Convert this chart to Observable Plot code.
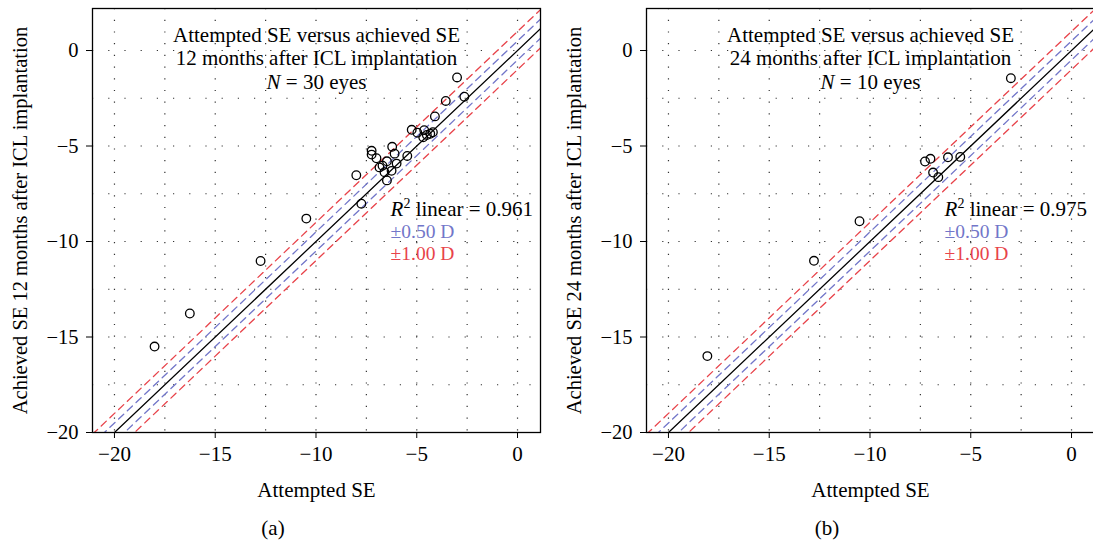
<!DOCTYPE html>
<html><head><meta charset="utf-8">
<script src="https://cdn.jsdelivr.net/npm/d3@7"></script>
<script src="https://cdn.jsdelivr.net/npm/@observablehq/plot@0.6"></script>
<style>
body{margin:0;background:#fff;font-family:"Liberation Serif",serif;}
#wrap{position:relative;width:1093px;height:540px;overflow:hidden;background:#fff;}
.panel{position:absolute;top:0;width:546px;height:540px;}
.cap{position:absolute;left:0;width:546px;text-align:center;font-size:21px;top:517px;line-height:22px;height:22px;color:#000;}
</style></head><body>
<div id="wrap"><div class="panel" id="pa"></div><div class="panel" id="pb" style="left:554px"></div></div>
<script>
// Panel (a): 12 months, 30 eyes
const attemptedA = [-3.0,-2.64,-3.56,-4.1,-5.25,-4.97,-4.63,-4.68,-4.5,-4.33,-4.2,-6.22,-6.1,-5.47,-7.24,-7.24,-7.0,-6.48,-6.0,-6.85,-6.7,-6.6,-6.25,-6.48,-8.0,-7.75,-10.48,-12.75,-16.26,-18.01];
const achievedA  = [-1.41,-2.42,-2.64,-3.45,-4.15,-4.3,-4.17,-4.54,-4.42,-4.36,-4.28,-5.04,-5.4,-5.52,-5.25,-5.45,-5.64,-5.8,-5.92,-6.12,-6.03,-6.37,-6.3,-6.8,-6.53,-8.02,-8.8,-11.02,-13.77,-15.5];
// Panel (b): 24 months, 10 eyes
const attemptedB = [-3.01,-18.07,-12.78,-10.52,-7.27,-7.0,-6.13,-5.52,-6.87,-6.61];
const achievedB  = [-1.45,-16.0,-11.01,-8.94,-5.81,-5.67,-5.59,-5.57,-6.39,-6.63];

const panelLetters = ["(a)", "(b)"];
const monthsList = [12, 24];
const eyesList = [30, 10];
const r2List = [0.961, 0.975];
const xTicks = [-20, -15, -10, -5, 0];
const yTicks = [-20, -15, -10, -5, 0];
const gridXValues = [-20, -17.5, -15, -12.5, -10, -7.5, -5, -2.5, 0];
const gridYValues = [-17.5, -15, -12.5, -10, -7.5, -5, -2.5, 0];
const innerBand = [-0.5, 0.5];
const outerBand = [-1, 1];
const bandLabels = ["±0.50 D", "±1.00 D"];

const xDomain = [-21.09, 1.14];
const yDomain = [-20, 2.2];
const BLUE = "#7276c9";
const RED = "#e8434a";
const SVGNS = "http://www.w3.org/2000/svg";
const fmt = d => d < 0 ? "\u2212" + (-d) : String(d);

function refLine(offsets) {
  return offsets.flatMap((o, k) => xDomain.map(x => ({x, y: x + o, k})));
}

function span(parent, txt, attrs) {
  const t = document.createElementNS(SVGNS, "tspan");
  t.textContent = txt;
  for (const k in attrs) t.setAttribute(k, attrs[k]);
  parent.appendChild(t);
  return t;
}

function panel(att, ach, months, eyes, r2) {
  const pts = att.map((x, i) => ({x, y: ach[i]}));
  const svg = Plot.plot({
    width: 546, height: 505,
    marginLeft: 92, marginRight: 6, marginTop: 8, marginBottom: 73,
    style: {fontFamily: "'Liberation Serif', serif", fontSize: "21px", color: "black", background: "white", overflow: "visible"},
    x: {domain: xDomain},
    y: {domain: yDomain},
    marks: [
      Plot.gridX(gridXValues, {stroke: "#333", strokeOpacity: 1, strokeWidth: 1.2, strokeDasharray: "1.2,10.5"}),
      Plot.gridY(gridYValues, {stroke: "#333", strokeOpacity: 1, strokeWidth: 1.2, strokeDasharray: "1.2,15"}),
      Plot.line(refLine(outerBand), {x: "x", y: "y", z: "k", stroke: RED, strokeWidth: 1.3, strokeDasharray: "7,5", clip: true}),
      Plot.line(refLine(innerBand), {x: "x", y: "y", z: "k", stroke: BLUE, strokeWidth: 1.3, strokeDasharray: "7,5", clip: true}),
      Plot.line(refLine([0]), {x: "x", y: "y", z: "k", stroke: "black", strokeWidth: 1.3, clip: true}),
      Plot.dot(pts, {x: "x", y: "y", r: 4.3, stroke: "black", strokeWidth: 1.3, fill: "none"}),
      Plot.text([`Attempted SE versus achieved SE\n${months} months after ICL implantation\nN = ${eyes} eyes`], {
        text: d => d, frameAnchor: "top", lineAnchor: "top", dy: 16, lineHeight: 1.14, fill: "black"
      }),
      Plot.text([r2], {x: () => -6.3, y: () => -8.33, text: d => "R2 linear = " + d.toFixed(3), textAnchor: "start", lineAnchor: "middle", fill: "black"}),
      Plot.text([bandLabels[0]], {x: () => -6.3, y: () => -9.5, text: d => d, textAnchor: "start", lineAnchor: "middle", fill: BLUE, fontSize: 19.5}),
      Plot.text([bandLabels[1]], {x: () => -6.3, y: () => -10.63, text: d => d, textAnchor: "start", lineAnchor: "middle", fill: RED, fontSize: 19.5}),
      Plot.frame({stroke: "black", strokeWidth: 1.3}),
      Plot.axisX({ticks: xTicks, tickSize: 6, tickPadding: 8, tickFormat: fmt, label: "Attempted SE", labelAnchor: "center", labelOffset: 64, labelArrow: "none"}),
      Plot.axisY({ticks: yTicks, tickSize: 6, tickPadding: 8, tickFormat: fmt, label: `Achieved SE ${months} months after ICL implantation`, labelAnchor: "center", labelOffset: 80, labelArrow: "none", fontSize: 20.5})
    ]
  });
  svg.querySelectorAll("tspan").forEach(el => {
    const t = el.textContent;
    if (t.startsWith("N = ")) {
      el.textContent = "";
      span(el, "N", {"font-style": "italic"});
      span(el, t.slice(1), {});
    }
  });
  svg.querySelectorAll("text").forEach(el => {
    const t = el.textContent;
    if (t.startsWith("R2 linear")) {
      el.textContent = "";
      span(el, "R", {"font-style": "italic"});
      span(el, "2", {"font-size": "14", "dy": "-8"});
      span(el, t.slice(2), {"dy": "8"});
    }
  });
  return svg;
}

const pa = document.getElementById("pa");
const pb = document.getElementById("pb");
pa.appendChild(panel(attemptedA, achievedA, monthsList[0], eyesList[0], r2List[0]));
pb.appendChild(panel(attemptedB, achievedB, monthsList[1], eyesList[1], r2List[1]));
[pa, pb].forEach((p, i) => {
  const c = document.createElement("div");
  c.className = "cap";
  c.textContent = panelLetters[i];
  p.appendChild(c);
});
</script>
</body></html>
